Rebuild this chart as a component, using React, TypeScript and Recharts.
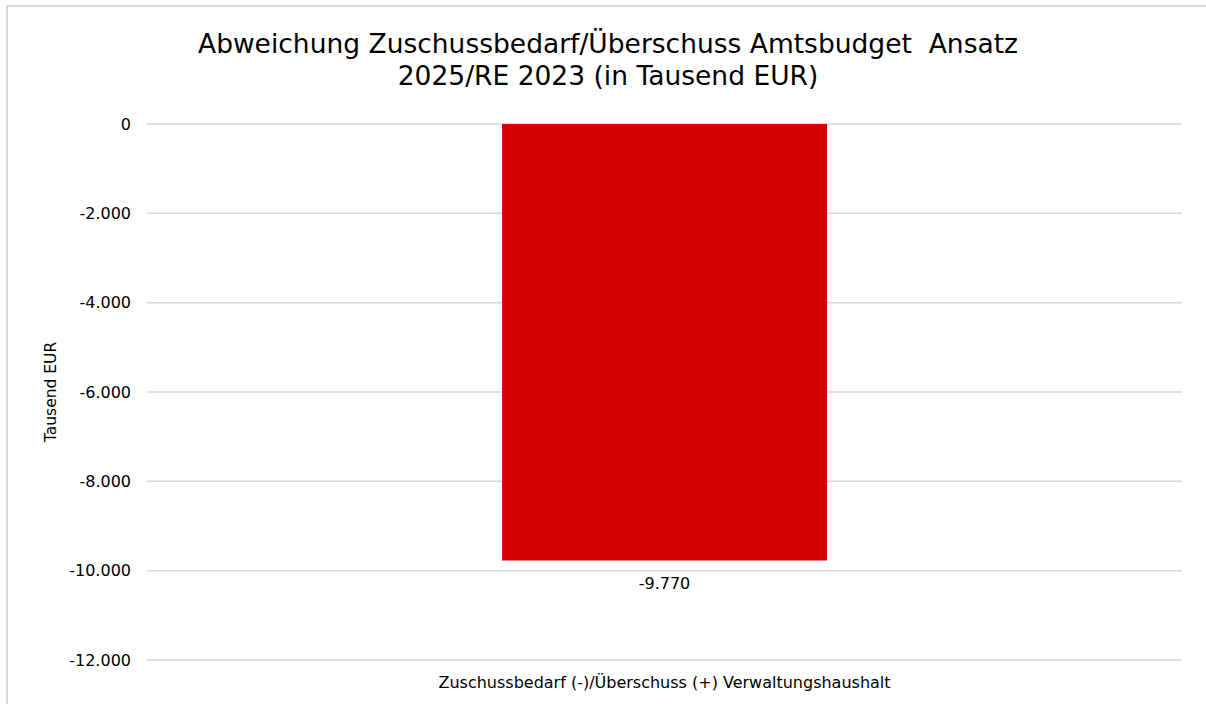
import { BarChart, Bar, XAxis, YAxis, CartesianGrid, LabelList, Label } from "recharts";

const categories = ["Zuschussbedarf (-)/Überschuss (+) Verwaltungshaushalt"];
const deviationValues = [-9770];
const yTicks = [0, -2000, -4000, -6000, -8000, -10000, -12000];

const titleLines = [
  "Abweichung Zuschussbedarf/Überschuss Amtsbudget\u00a0 Ansatz",
  "2025/RE 2023 (in Tausend EUR)",
];

const data = categories.map((name, i) => ({ name, value: deviationValues[i] }));

const fmt = (v: number) => new Intl.NumberFormat("de-DE").format(v);
const FONT = "'DejaVu Sans', Verdana, sans-serif";

export default function App() {
  return (
    <div
      style={{
        position: "fixed",
        left: 0,
        top: 0,
        width: 1206,
        height: 704,
        overflow: "hidden",
        background: "#FFFFFF",
        fontFamily: FONT,
      }}
    >
      <div
        style={{
          position: "absolute",
          left: 6,
          top: 5,
          right: 0,
          bottom: 0,
          borderLeft: "2px solid #D9D9D9",
          borderTop: "2px solid #D9D9D9",
        }}
      />
      <div
        style={{
          position: "absolute",
          left: 0,
          width: 1216,
          top: 28,
          textAlign: "center",
          fontSize: 26.5,
          lineHeight: "32px",
          color: "#000000",
        }}
      >
        {titleLines.map((t) => (
          <div key={t}>{t}</div>
        ))}
      </div>
      <div style={{ position: "absolute", left: 0, top: 0 }}>
        <BarChart
          width={1206}
          height={704}
          data={data}
          margin={{ top: 124, right: 24, left: 0, bottom: 0 }}
        >
          <CartesianGrid stroke="#D9D9D9" strokeWidth={1.5} vertical={false} />
          <XAxis
            dataKey="name"
            axisLine={false}
            tickLine={false}
            tickSize={0}
            tickMargin={17}
            height={44}
            tick={{ fill: "#000000", fontSize: 16, fontFamily: FONT }}
          />
          <YAxis
            type="number"
            domain={[-12000, 0]}
            ticks={yTicks}
            interval={0}
            width={147}
            axisLine={false}
            tickLine={false}
            tickSize={0}
            tickMargin={16}
            tickFormatter={fmt}
            tick={{ fill: "#000000", fontSize: 16, fontFamily: FONT }}
          >
            <Label
              content={() => (
                <text
                  x={51}
                  y={392}
                  transform="rotate(-90 51 392)"
                  textAnchor="middle"
                  dominantBaseline="central"
                  fontSize={15.5}
                  fontFamily={FONT}
                  fill="#000000"
                >
                  Tausend EUR
                </text>
              )}
            />
          </YAxis>
          <Bar dataKey="value" fill="#D40000" barSize={325} isAnimationActive={false}>
            <LabelList
              dataKey="value"
              position="top"
              offset={17}
              formatter={(v: any) => fmt(Number(v))}
              style={{ fill: "#000000", fontSize: 16, fontFamily: FONT }}
            />
          </Bar>
        </BarChart>
      </div>
    </div>
  );
}
